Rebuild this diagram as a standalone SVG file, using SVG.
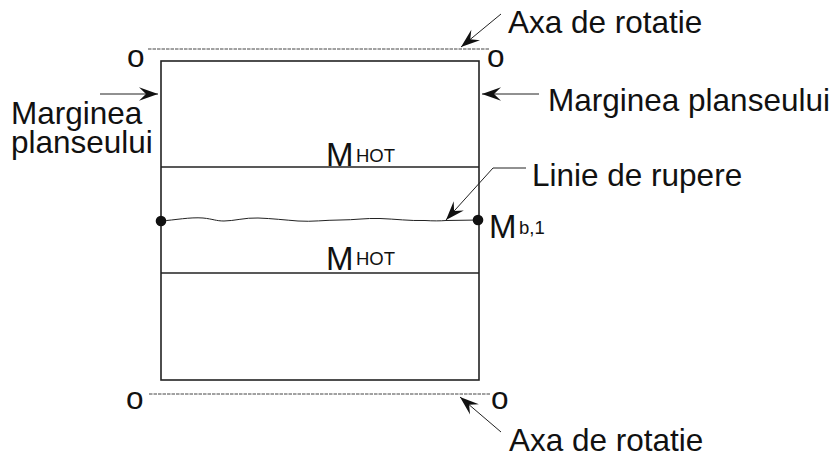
<svg xmlns="http://www.w3.org/2000/svg" width="835" height="454" viewBox="0 0 835 454">
<style>
text{font-family:"Liberation Sans",Arial,sans-serif;fill:#111}
.l{font-size:31.5px}
.m{font-size:33px}
.s{font-size:18.5px}
.o{font-size:31.5px}
.b{fill:none;stroke:#222;stroke-width:1.6}
.t{fill:none;stroke:#222;stroke-width:1}
.d{fill:none;stroke:#444;stroke-width:1;stroke-dasharray:3.5 1}
</style>
<defs>
<marker id="a" markerUnits="userSpaceOnUse" markerWidth="24" markerHeight="20" refX="21" refY="10" orient="auto">
<path d="M21 10L2 3.2L9 10L2 16.800Z" fill="#111"/>
</marker>
</defs>
<rect width="835" height="454" fill="#fff"/>
<g id="plate">
<rect class="b" x="161" y="61" width="318" height="319"/>
<line class="b" x1="161" y1="167" x2="479" y2="167"/>
<line class="b" x1="161" y1="273" x2="479" y2="273"/>
</g>
<g id="axis-top"><line class="d" x1="148" y1="49" x2="490" y2="49"/></g>
<g id="axis-bottom"><line class="d" x1="149" y1="394" x2="490" y2="394"/></g>
<g id="break-line">
<path class="t" d="M161 221C175 220 190 217 203 218C213 219 216 221 224 221C234 221 245 217.500 258 218C272 218.500 285 220 298 221C312 222 325 220 340 220C355 220 365 218 380 218.500C395 219 410 221 425 220.500C433 221 440 221 446 220.500L479 220"/>
<circle cx="161" cy="221" r="5.300" fill="#111"/>
<circle cx="478" cy="220" r="5.300" fill="#111"/>
</g>
<g id="connectors">
<line class="t" x1="100" y1="94" x2="158" y2="94" marker-end="url(#a)"/>
<line class="t" x1="539" y1="94" x2="482" y2="94" marker-end="url(#a)"/>
<line class="t" x1="501" y1="14" x2="461" y2="47" marker-end="url(#a)"/>
<polyline class="t" points="526,168 493,168 446,220" marker-end="url(#a)"/>
<line class="t" x1="501" y1="432" x2="460" y2="397" marker-end="url(#a)"/>
</g>
<g id="labels">
<text class="o" x="127" y="67">o</text>
<text class="o" x="487" y="67">o</text>
<text class="o" x="126" y="409">o</text>
<text class="o" x="491" y="409">o</text>
<text class="l" x="508" y="33">Axa de rotatie</text>
<text class="l" x="509" y="451">Axa de rotatie</text>
<text class="l" x="548" y="111">Marginea planseului</text>
<text class="l" x="11" y="124">Marginea</text>
<text class="l" x="11" y="153">planseului</text>
<text class="l" x="532" y="186">Linie de rupere</text>
<text class="m" x="326" y="166">M</text><text class="s" x="356" y="162">HOT</text>
<text class="m" x="326" y="270">M</text><text class="s" x="356" y="265">HOT</text>
<text class="m" x="489" y="238">M</text><text class="s" x="519" y="234">b,1</text>
</g>
</svg>
